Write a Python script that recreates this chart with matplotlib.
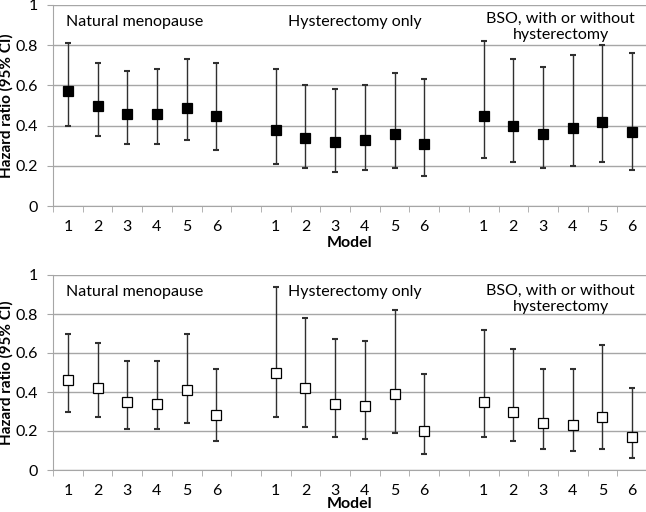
import numpy as np
import matplotlib
matplotlib.use('Agg')
import matplotlib.pyplot as plt

plt.rcParams['font.family'] = ['Lato', 'DejaVu Sans']

models = ['1', '2', '3', '4', '5', '6']
groups = ['Natural menopause', 'Hysterectomy only', 'BSO, with or without\nhysterectomy']

# top panel (filled squares)
top_hr = [[0.57, 0.50, 0.46, 0.46, 0.49, 0.45],
          [0.38, 0.34, 0.32, 0.33, 0.36, 0.31],
          [0.45, 0.40, 0.36, 0.39, 0.42, 0.37]]
top_lo = [[0.40, 0.35, 0.31, 0.31, 0.33, 0.28],
          [0.21, 0.19, 0.17, 0.18, 0.19, 0.15],
          [0.24, 0.22, 0.19, 0.20, 0.22, 0.18]]
top_hi = [[0.81, 0.71, 0.67, 0.68, 0.73, 0.71],
          [0.68, 0.60, 0.58, 0.60, 0.66, 0.63],
          [0.82, 0.73, 0.69, 0.75, 0.80, 0.76]]

# bottom panel (open squares)
bot_hr = [[0.46, 0.42, 0.35, 0.34, 0.41, 0.28],
          [0.50, 0.42, 0.34, 0.33, 0.39, 0.20],
          [0.35, 0.30, 0.24, 0.23, 0.27, 0.17]]
bot_lo = [[0.30, 0.27, 0.21, 0.21, 0.24, 0.15],
          [0.27, 0.22, 0.17, 0.16, 0.19, 0.08],
          [0.17, 0.15, 0.11, 0.10, 0.11, 0.06]]
bot_hi = [[0.70, 0.65, 0.56, 0.56, 0.70, 0.52],
          [0.94, 0.78, 0.67, 0.66, 0.82, 0.49],
          [0.72, 0.62, 0.52, 0.52, 0.64, 0.42]]

fig = plt.figure(figsize=(6.46, 5.12), dpi=100)
ax1 = fig.add_axes([53/646, 1-206/512, 594/646, 201/512])
ax2 = fig.add_axes([53/646, 1-470/512, 594/646, 195/512])

n = len(models)
gridc = '#a6a6a6'


def draw(ax, hr, lo, hi, face, model_y, bso_y):
    xs_all = []
    for g in range(len(groups)):
        xs = np.arange(n) + g*(n+1)
        xs_all += list(xs)
        y = np.array(hr[g])
        err = [y - np.array(lo[g]), np.array(hi[g]) - y]
        ax.errorbar(xs, y, yerr=err, fmt='none', ecolor='#303030',
                    elinewidth=1.0, capsize=2.5, capthick=1.5, zorder=3)
        ax.plot(xs, y, 's', ms=6.8, mfc=face, mec='black', mew=0.9, zorder=4)
    ax.set_xlim(-0.5, 3*n + 2 - 0.5)
    ax.set_ylim(0, 1)
    ax.set_yticks([0, 0.2, 0.4, 0.6, 0.8, 1.0])
    ax.set_yticklabels(['0', '0.2', '0.4', '0.6', '0.8', '1'], fontsize=11.5)
    ax.set_xticks(xs_all)
    ax.set_xticklabels(models*3, fontsize=11.5)
    ax.set_xticks(np.arange(-0.5, 3*n + 2), minor=True)
    ax.tick_params(axis='x', which='major', length=0, pad=10)
    ax.tick_params(axis='x', which='minor', length=4, color=gridc, direction='out')
    ax.tick_params(axis='y', length=4, color=gridc, pad=7)
    ax.grid(axis='y', color=gridc, lw=1.0)
    ax.set_axisbelow(True)
    for s in ['top', 'right']:
        ax.spines[s].set_visible(False)
    for s in ['left', 'bottom']:
        ax.spines[s].set_color(gridc)
    ax.set_xlabel('Model', fontsize=11.5, fontweight='bold')
    ax.xaxis.set_label_coords(0.5, model_y)
    ax.set_ylabel('Hazard ratio (95% CI)', fontsize=11, fontweight='bold')
    ax.yaxis.set_label_coords(-0.066, 0.5)
    ax.text(-0.05, 0.915, groups[0], fontsize=11.5, va='center', ha='left')
    ax.text(7.4, 0.915, groups[1], fontsize=11.5, va='center', ha='left')
    ax.text(16.6, bso_y, groups[2], fontsize=11.5, va='center', ha='center',
            linespacing=1.2)


draw(ax1, top_hr, top_lo, top_hi, 'black', -30/201, 0.893)
draw(ax2, bot_hr, bot_lo, bot_hi, 'white', -27/195, 0.877)

plt.savefig('out.png', dpi=100)
